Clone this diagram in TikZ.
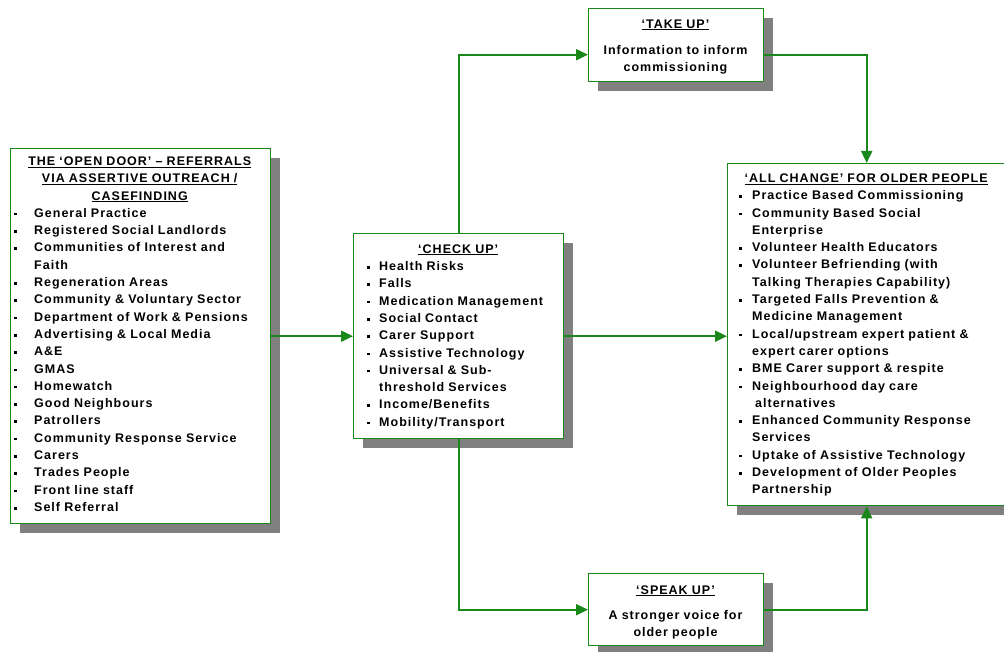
\documentclass[tikz,border=0pt]{standalone}
\usepackage{fontspec}
\setmainfont{Liberation Sans}[LetterSpace=8]
\usetikzlibrary{arrows.meta,shadows}
\definecolor{lg}{RGB}{25,135,25}
\newlength\bx
\newlength\bi
\newcommand\bitem[1]{\par\noindent\hangindent=\bi\hangafter=1\makebox[\bi][l]{\hspace*{\bx}\rule[1.9pt]{2.6pt}{2.6pt}}#1}
\newcommand\hul[1]{\leavevmode\setbox0\hbox{#1}\rlap{\rule[-2.2pt]{\wd0}{1.1pt}}\box0}
\tikzset{
  boxnode/.style={draw=lg, line width=1.4pt, fill=white, inner sep=0pt, anchor=north west,
    drop shadow={shadow xshift=9pt, shadow yshift=-9pt, fill=black!50, opacity=1}},
  txt/.style={inner sep=0pt, font=\fontsize{12.5}{17.3}\selectfont\bfseries},
  conn/.style={draw=lg, line width=2pt, -{Triangle[length=12pt,width=11pt]}}
}
\begin{document}
\begin{tikzpicture}[x=1pt,y=-1pt]
\useasboundingbox (0,0) rectangle (1004,652);
\hyphenpenalty=10000
% boxes
\node[boxnode, minimum width=260pt, minimum height=375pt] (open) at (10,148) {};
\node[boxnode, minimum width=210pt, minimum height=205pt] (check) at (353,233) {};
\node[boxnode, minimum width=175pt, minimum height=73pt] (take) at (588,8) {};
\node[boxnode, minimum width=175pt, minimum height=72pt] (speak) at (588,573) {};
\node[boxnode, minimum width=278pt, minimum height=342pt] (all) at (727,163) {};
% texts
\node[txt, anchor=base west, text width=255pt] (opentext) at (12,165.5) {%
  \setlength\bx{2pt}\setlength\bi{22pt}\parskip=0pt
  {\centering \hul{THE ‘OPEN DOOR’ – REFERRALS}\\ \hul{VIA ASSERTIVE OUTREACH /}\\ \hul{CASEFINDING}\par}
  \raggedright
  \bitem{General Practice}
  \bitem{Registered Social Landlords}
  \bitem{Communities of Interest and\newline Faith}
  \bitem{Regeneration Areas}
  \bitem{Community \& Voluntary Sector}
  \bitem{Department of Work \& Pensions}
  \bitem{Advertising \& Local Media}
  \bitem{A\&E}
  \bitem{GMAS}
  \bitem{Homewatch}
  \bitem{Good Neighbours}
  \bitem{Patrollers}
  \bitem{Community Response Service}
  \bitem{Carers}
  \bitem{Trades People}
  \bitem{Front line staff}
  \bitem{Self Referral}\par};
\node[txt, anchor=base west, text width=206pt] (checktext) at (355,253.3) {%
  \setlength\bx{12pt}\setlength\bi{24pt}\parskip=0pt
  {\centering \hul{‘CHECK UP’}\par}
  \raggedright
  \bitem{Health Risks}
  \bitem{Falls}
  \bitem{Medication Management}
  \bitem{Social Contact}
  \bitem{Carer Support}
  \bitem{Assistive Technology}
  \bitem{Universal \& Sub-\newline threshold Services}
  \bitem{Income/Benefits}
  \bitem{Mobility/Transport}\par};
\node[txt, anchor=base west, text width=274pt] (alltext) at (729,182.5) {%
  \setlength\bx{10pt}\setlength\bi{23pt}\parskip=0pt
  {\centering \hul{‘ALL CHANGE’ FOR OLDER PEOPLE}\par}
  \raggedright
  \bitem{Practice Based Commissioning}
  \bitem{Community Based Social\newline Enterprise}
  \bitem{Volunteer Health Educators}
  \bitem{Volunteer Befriending (with\newline Talking Therapies Capability)}
  \bitem{Targeted Falls Prevention \&\newline Medicine Management}
  \bitem{Local/upstream expert patient \&\newline expert carer options}
  \bitem{BME Carer support \& respite}
  \bitem{Neighbourhood day care\newline\hspace*{3pt}alternatives}
  \bitem{Enhanced Community Response\newline Services}
  \bitem{Uptake of Assistive Technology}
  \bitem{Development of Older Peoples\newline Partnership}\par};
\node[txt, anchor=base, text width=170pt, align=center] (taketext) at (675.5,28.3) {%
  \hul{‘TAKE UP’}\\[9pt] Information to inform\\commissioning};
\node[txt, anchor=base, text width=170pt, align=center] (speaktext) at (675.5,594) {%
  \hul{‘SPEAK UP’}\\[8pt] A stronger voice for\\older people};
% connectors
\draw[conn] (open.east) -- (check.west);
\draw[conn] (check.east) -- (check.east -| all.west);
\draw[conn] (check.north) |- ([yshift=-9.5pt]take.west);
\draw[conn] ([yshift=-9.5pt]take.east) -| (all.north);
\draw[conn] (check.south) |- (speak.west);
\draw[conn] (speak.east) -| (all.south);
\end{tikzpicture}
\end{document}
